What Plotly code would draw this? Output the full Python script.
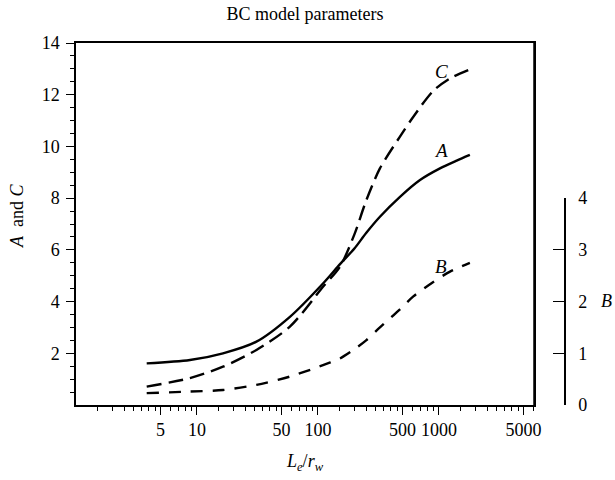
import plotly.graph_objects as go
import numpy as np

# ---- data ----
ratio_A = [3.84, 8.75, 16.4, 31, 58.6, 110, 152, 200, 250, 325, 476, 697, 1019, 1400, 1800]
A_vals = [1.61, 1.74, 2.0, 2.45, 3.41, 4.7, 5.45, 6.05, 6.65, 7.28, 8.05, 8.70, 9.15, 9.45, 9.67]
ratio_C = [3.84, 8.75, 16.4, 31, 58.6, 110, 152, 200, 250, 325, 476, 614, 898, 1233, 1800]
C_vals = [0.71, 1.04, 1.48, 2.13, 3.03, 4.57, 5.35, 6.6, 7.9, 9.15, 10.38, 11.15, 12.15, 12.63, 12.98]
ratio_B = [3.84, 8.75, 16.4, 31, 58.6, 110, 152, 200, 250, 325, 476, 614, 898, 1233, 1800]
B_vals = [0.23, 0.26, 0.29, 0.39, 0.55, 0.77, 0.9, 1.08, 1.25, 1.5, 1.85, 2.1, 2.38, 2.58, 2.75]

x_tickvals = [5, 10, 50, 100, 500, 1000, 5000]
x_ticktext = ["5", "10", "50", "100", "500", "1000", "5000"]
y_tickvals = [2, 4, 6, 8, 10, 12, 14]
b_tickvals = [0, 1, 2, 3, 4]

FONT = "Liberation Serif"
FS = 18
W, H = 615, 480
L, R, T, B = 76, 15, 43, 75
pw = W - L - R
ph = H - T - B
frame_right = 534
b_axis_x = 565
xdom_end = (frame_right - L) / pw

x_minor = []
for dec in [1, 10, 100, 1000]:
    for m in [1.5, 2, 2.5, 3, 3.5, 4, 4.5, 6, 7, 8, 9]:
        x_minor.append(m * dec)
y_minor = [v / 2 for v in range(1, 28) if (v / 2) % 2 != 0]

fig = go.Figure()
fig.add_trace(go.Scatter(x=ratio_A, y=A_vals, mode="lines",
                         line=dict(color="black", width=2.4, shape="spline", smoothing=0.8),
                         xaxis="x", yaxis="y", showlegend=False))
fig.add_trace(go.Scatter(x=ratio_C, y=C_vals, mode="lines",
                         line=dict(color="black", width=2.4, dash="15px,7px", shape="spline", smoothing=0.8),
                         xaxis="x", yaxis="y", showlegend=False))
fig.add_trace(go.Scatter(x=ratio_B, y=B_vals, mode="lines",
                         line=dict(color="black", width=2.4, dash="12px,10px", shape="spline", smoothing=0.8),
                         xaxis="x", yaxis="y2", showlegend=False))

fig.update_layout(
    width=W, height=H,
    margin=dict(l=L, r=R, t=T, b=B, autoexpand=False),
    paper_bgcolor="white", plot_bgcolor="rgba(0,0,0,0)",
    font=dict(family=FONT, size=FS, color="black"),
    title=dict(text="BC model parameters", x=(L + (frame_right - L) / 2) / W, xanchor="center",
               y=1 - 14 / H, yanchor="middle", yref="container", font=dict(size=FS)),
    xaxis=dict(type="log", range=[0, np.log10(6100)], domain=[0, xdom_end],
               tickmode="array", tickvals=x_tickvals, ticktext=x_ticktext,
               ticks="outside", ticklen=8, tickwidth=1, tickcolor="black",
               showline=True, linecolor="black", linewidth=1.5, mirror=True,
               showgrid=False, zeroline=False, anchor="y",
               minor=dict(tickmode="array", tickvals=x_minor, ticks="outside", ticklen=4,
                          tickwidth=1, tickcolor="black", showgrid=False),
               tickfont=dict(size=FS)),
    yaxis=dict(range=[0, 14], domain=[0, 1], tickmode="array", tickvals=y_tickvals,
               ticks="outside", ticklen=8, tickwidth=1, tickcolor="black",
               showline=True, linecolor="black", linewidth=1.5, mirror=True,
               showgrid=False, zeroline=False, anchor="x", ticklabelstandoff=3,
               minor=dict(tickmode="array", tickvals=y_minor, ticks="outside", ticklen=4,
                          tickwidth=1, tickcolor="black", showgrid=False),
               tickfont=dict(size=FS)),
    yaxis2=dict(range=[0, 4], domain=[0, 8 / 14], side="right", anchor="free",
                position=(b_axis_x - L) / pw, tickmode="array", tickvals=b_tickvals,
                ticks="inside", ticklen=11, tickwidth=1, tickcolor="black",
                showline=True, linecolor="black", linewidth=1.5, ticklabelstandoff=9,
                showgrid=False, zeroline=False, tickfont=dict(size=FS)),
)

# right edge of the frame
fig.add_shape(type="line", xref="paper", yref="paper", x0=xdom_end, x1=xdom_end, y0=0, y1=1,
              line=dict(color="black", width=1.5), layer="above")


def px_to_plot(px_x, px_y):
    return (px_x - L) / pw, 1 - (px_y - T) / ph


ax, ay = px_to_plot(L + (frame_right - L) / 2, 449)
fig.add_annotation(text="<i>L<sub>e</sub></i>/<i>r<sub>w</sub></i>", x=ax, y=ay,
                   xref="paper", yref="paper", xanchor="center", yanchor="top",
                   showarrow=False, font=dict(size=FS))
ax, ay = px_to_plot(17, 216)
fig.add_annotation(text="<i>A</i>  and <i>C</i>", x=ax, y=ay, xref="paper", yref="paper",
                   xanchor="center", yanchor="middle",
                   showarrow=False, textangle=-90, font=dict(size=FS))
ax, ay = px_to_plot(606, 301)
fig.add_annotation(text="<i>B</i>", x=ax, y=ay, xref="paper", yref="paper",
                   xanchor="center", yanchor="middle",
                   showarrow=False, font=dict(size=FS))
fig.add_annotation(text="<i>C</i>", x=np.log10(1040), y=12.9, xref="x", yref="y",
                   showarrow=False, font=dict(size=FS + 1))
fig.add_annotation(text="<i>A</i>", x=np.log10(1040), y=9.85, xref="x", yref="y",
                   showarrow=False, font=dict(size=FS + 1))
fig.add_annotation(text="<i>B</i>", x=np.log10(1040), y=2.68, xref="x", yref="y2",
                   showarrow=False, font=dict(size=FS + 1))

fig.write_html("out.html")
